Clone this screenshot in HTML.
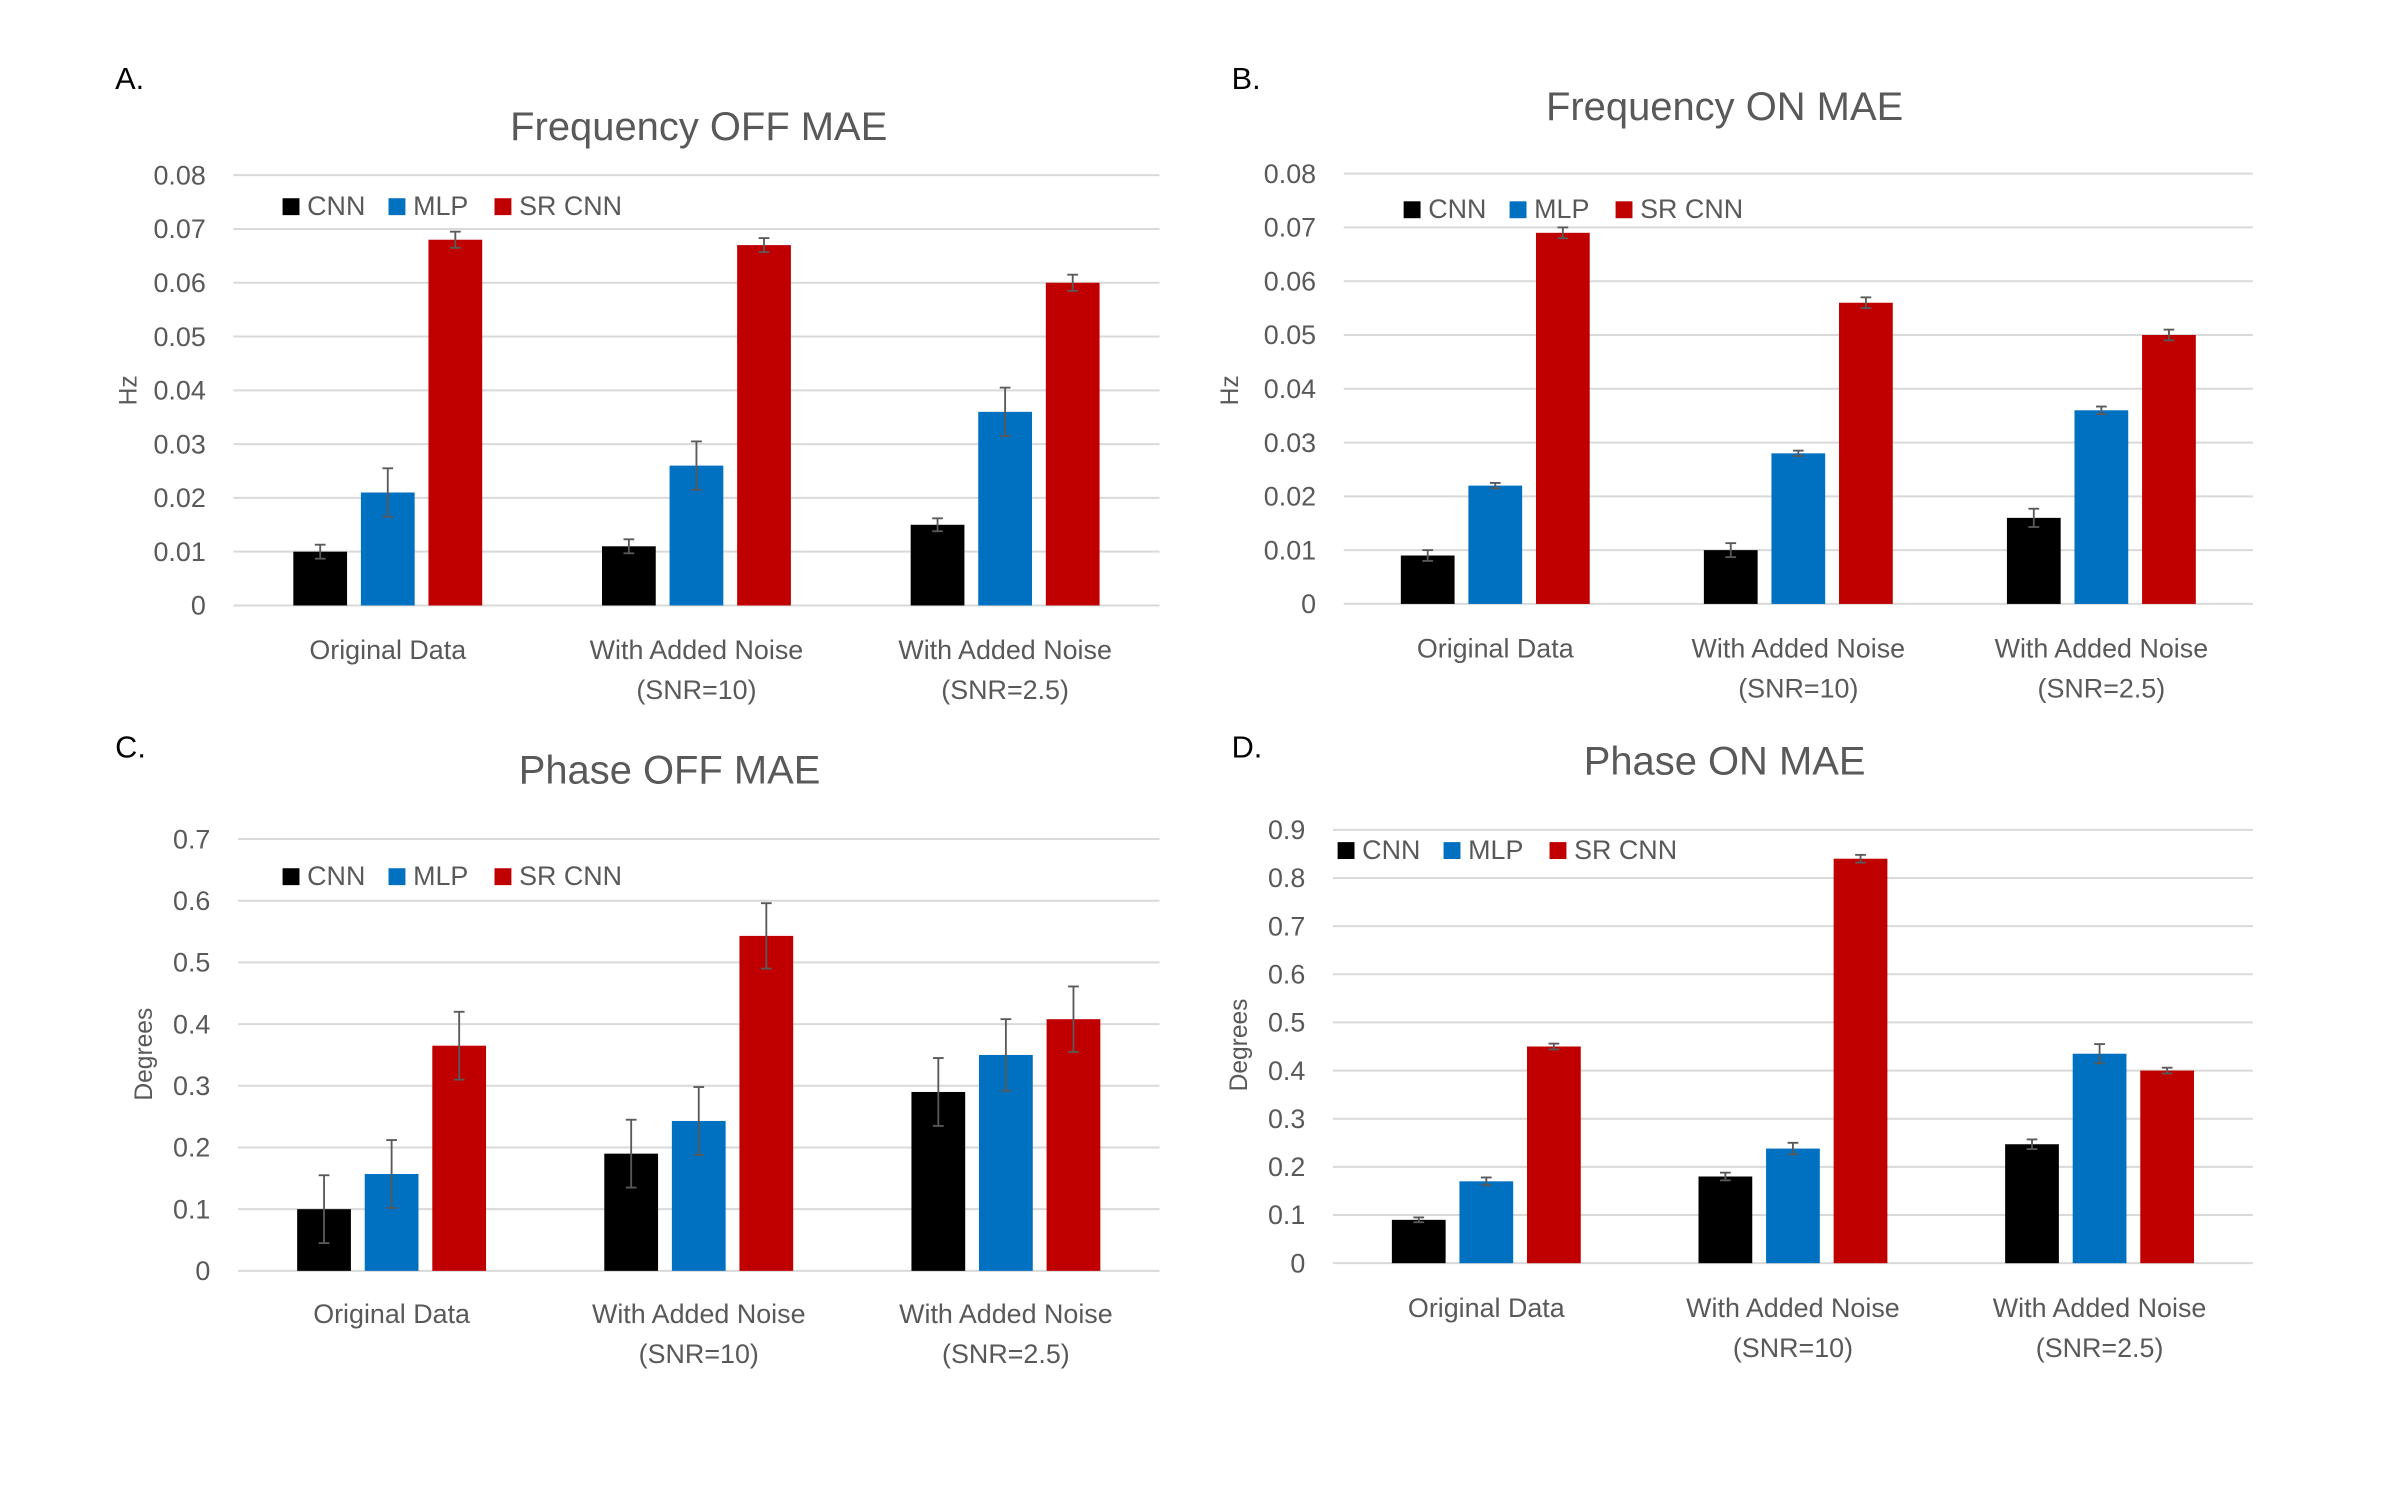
<!DOCTYPE html>
<html><head><meta charset="utf-8"><style>
html,body{margin:0;padding:0;background:#fff;}
svg{display:block;font-family:"Liberation Sans",sans-serif;}
</style></head><body>
<svg id="fig" width="2408" height="1486" viewBox="0 0 1568 967" preserveAspectRatio="none" xmlns="http://www.w3.org/2000/svg">
<rect width="1600" height="1000" fill="#fff"/>
</svg>
<script>
const categories = ["Original Data", "With Added Noise|(SNR=10)", "With Added Noise|(SNR=2.5)"];
const seriesNames = ["CNN", "MLP", "SR CNN"];
const colors = ["#000000", "#0070C0", "#C00000"];

const aCNN = [0.010, 0.011, 0.015];
const aMLP = [0.021, 0.026, 0.036];
const aSR = [0.068, 0.067, 0.060];
const aErrCNN = [0.0013, 0.0013, 0.0012];
const aErrMLP = [0.0045, 0.0045, 0.0045];
const aErrSR = [0.0015, 0.0013, 0.0015];

const bCNN = [0.009, 0.010, 0.016];
const bMLP = [0.022, 0.028, 0.036];
const bSR = [0.069, 0.056, 0.050];
const bErrCNN = [0.001, 0.0013, 0.0017];
const bErrMLP = [0.0005, 0.0005, 0.0007];
const bErrSR = [0.001, 0.001, 0.001];

const cCNN = [0.10, 0.19, 0.29];
const cMLP = [0.157, 0.243, 0.35];
const cSR = [0.365, 0.543, 0.408];
const cErrCNN = [0.055, 0.055, 0.055];
const cErrMLP = [0.055, 0.055, 0.058];
const cErrSR = [0.055, 0.053, 0.053];

const dCNN = [0.09, 0.18, 0.247];
const dMLP = [0.17, 0.238, 0.435];
const dSR = [0.45, 0.84, 0.40];
const dErrCNN = [0.005, 0.008, 0.01];
const dErrMLP = [0.008, 0.012, 0.02];
const dErrSR = [0.006, 0.008, 0.006];

const freqTicks = ["0","0.01","0.02","0.03","0.04","0.05","0.06","0.07","0.08"];
const phaseOffTicks = ["0","0.1","0.2","0.3","0.4","0.5","0.6","0.7"];
const phaseOnTicks = ["0","0.1","0.2","0.3","0.4","0.5","0.6","0.7","0.8","0.9"];

const NS = "http://www.w3.org/2000/svg";
const svg = document.getElementById("fig");
function mk(tag, attrs, parent) {
  const e = document.createElementNS(NS, tag);
  for (const k in attrs) e.setAttribute(k, attrs[k]);
  (parent || svg).appendChild(e);
  return e;
}
function txt(parent, x, y, s, size, fill, anchor, extra) {
  const t = mk("text", Object.assign({x: x, y: y, "font-size": size, fill: fill, "text-anchor": anchor}, extra || {}), parent);
  t.textContent = s;
  return t;
}

function chart(cfg) {
  const g = mk("g", {});
  
  
  const L = cfg.x0, R = cfg.x1, Y0 = cfg.y0, YT = cfg.yTop;
  const tickVals = cfg.ticks.map(Number);
  const vmax = tickVals[tickVals.length - 1];
  const yS = v => Y0 - (v / vmax) * (Y0 - YT);
  const cw = (R - L) / cfg.cats.length;
  const xC = i => L + cw * (i + 0.5);

  const lt = txt(g, cfg.letterX, cfg.letterY, cfg.letter, 20, "#000", "start");
  
  
  const tt = txt(g, cfg.titleX, cfg.titleY, cfg.title, 26, "#595959", "middle");
  
  

  cfg.ticks.forEach((lab, i) => {
    const y = yS(tickVals[i]);
    const ln = mk("line", {x1: L, x2: R, y1: y, y2: y, stroke: "#D9D9D9", "stroke-width": 1.3}, g);
    
    
    const t = txt(g, L - 18, y + 6, lab, 17.5, "#595959", "end");
    
    
  });

  const at = txt(g, 0, 0, cfg.yTitle, 16, "#595959", "middle", {transform: "translate(" + cfg.yTitleX + "," + cfg.yTitleY + ") rotate(-90)"});
  
  

  cfg.cats.forEach((c, i) => {
    const parts = c.split("|");
    parts.forEach((p, j) => {
      const t = txt(g, xC(i), cfg.labelY + j * 26, p, 17.5, "#595959", "middle");
      
      
    });
  });

  const offs = [-44, 0, 44];
  const bw = 35;
  cfg.series.forEach((vals, s) => {
    vals.forEach((v, i) => {
      const cx = xC(i) + offs[s];
      const r = mk("rect", {x: cx - bw / 2, y: yS(v), width: bw, height: Y0 - yS(v), fill: colors[s]}, g);
      
      
      const e = cfg.errs[s][i];
      const eg = mk("g", {stroke: "#595959", "stroke-width": 1.2}, g);
      
      
      mk("line", {x1: cx, x2: cx, y1: yS(v + e), y2: yS(v - e)}, eg);
      mk("line", {x1: cx - 3.5, x2: cx + 3.5, y1: yS(v + e), y2: yS(v + e)}, eg);
      mk("line", {x1: cx - 3.5, x2: cx + 3.5, y1: yS(v - e), y2: yS(v - e)}, eg);
    });
  });

  seriesNames.forEach((n, s) => {
    const lx = cfg.legX + s * 69;
    const lg = mk("g", {}, g);
    
    
    mk("rect", {x: lx, y: cfg.legY, width: 11, height: 11, fill: colors[s]}, lg);
    txt(lg, lx + 16, cfg.legY + 11, n, 17.5, "#595959", "start");
  });
}

chart({name: "chart-frequency-off", letter: "A.", letterX: 75, letterY: 58, title: "Frequency OFF MAE", titleX: 455, titleY: 91,
  x0: 152, x1: 755, y0: 394, yTop: 114, ticks: freqTicks, yTitle: "Hz", yTitleX: 89, yTitleY: 254, labelY: 429,
  cats: categories, series: [aCNN, aMLP, aSR], errs: [aErrCNN, aErrMLP, aErrSR], legX: 184, legY: 129});
chart({name: "chart-frequency-on", letter: "B.", letterX: 802, letterY: 58, title: "Frequency ON MAE", titleX: 1123, titleY: 78,
  x0: 875, x1: 1467, y0: 393, yTop: 113, ticks: freqTicks, yTitle: "Hz", yTitleX: 806, yTitleY: 254, labelY: 428,
  cats: categories, series: [bCNN, bMLP, bSR], errs: [bErrCNN, bErrMLP, bErrSR], legX: 914, legY: 131});
chart({name: "chart-phase-off", letter: "C.", letterX: 75, letterY: 493, title: "Phase OFF MAE", titleX: 436, titleY: 510,
  x0: 155, x1: 755, y0: 827, yTop: 546, ticks: phaseOffTicks, yTitle: "Degrees", yTitleX: 99, yTitleY: 686, labelY: 861,
  cats: categories, series: [cCNN, cMLP, cSR], errs: [cErrCNN, cErrMLP, cErrSR], legX: 184, legY: 565});
chart({name: "chart-phase-on", letter: "D.", letterX: 802, letterY: 493, title: "Phase ON MAE", titleX: 1123, titleY: 504,
  x0: 868, x1: 1467, y0: 822, yTop: 540, ticks: phaseOnTicks, yTitle: "Degrees", yTitleX: 812, yTitleY: 680, labelY: 857,
  cats: categories, series: [dCNN, dMLP, dSR], errs: [dErrCNN, dErrMLP, dErrSR], legX: 871, legY: 548});
</script>
</body></html>
